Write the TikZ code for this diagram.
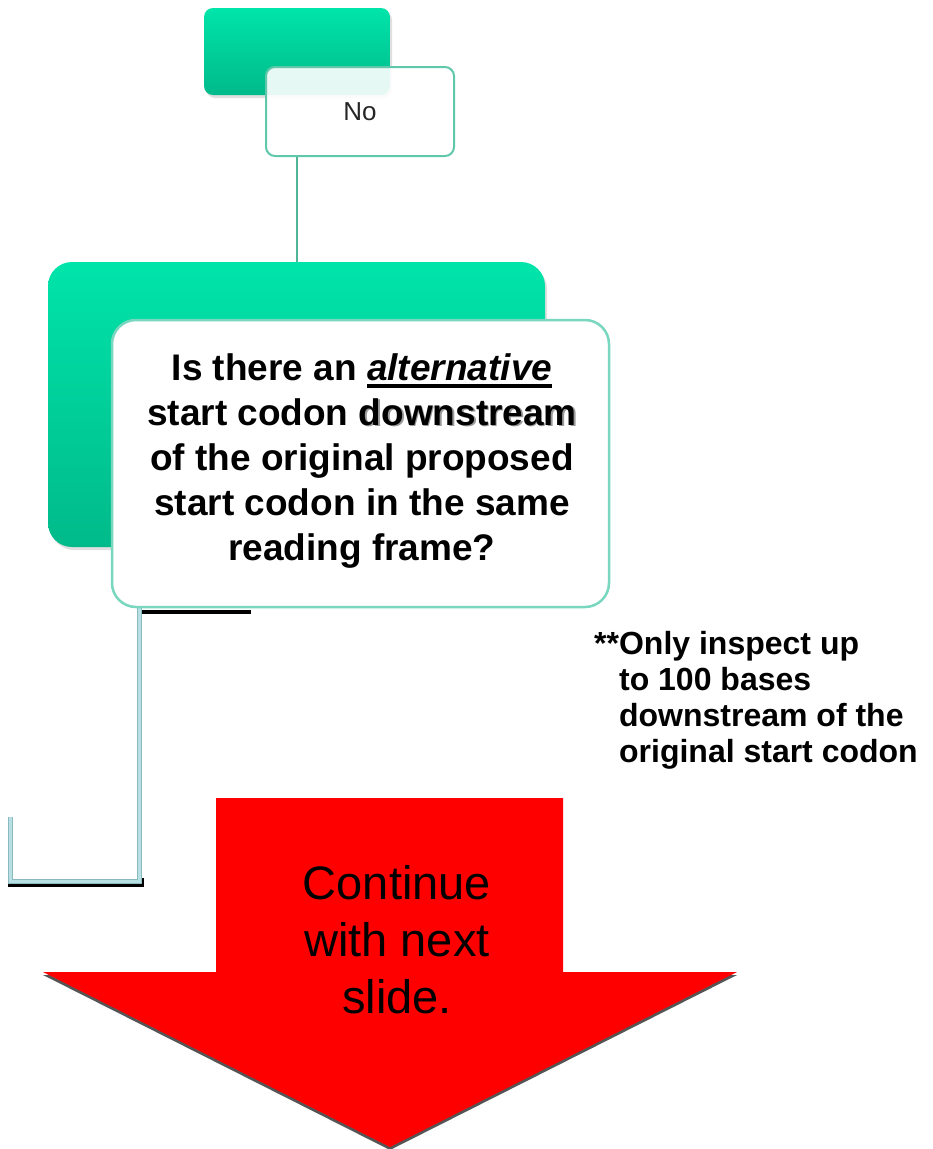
\documentclass[tikz,border=0pt]{standalone}
\usepackage{fontspec}
\setmainfont{Liberation Sans}
\usetikzlibrary{shadows}
\definecolor{gtop}{RGB}{0,228,170}
\definecolor{gbot}{RGB}{0,186,138}
\definecolor{nobord}{RGB}{95,200,170}
\definecolor{wbord}{RGB}{120,215,190}
\definecolor{vline}{RGB}{80,180,150}
\definecolor{elbowout}{RGB}{140,185,190}
\definecolor{elbowin}{RGB}{182,224,228}
\definecolor{arrowred}{RGB}{255,0,0}
\definecolor{arrowshadow}{RGB}{85,85,85}
\newcommand\thickul[1]{\setbox0\hbox{#1}\rlap{\rule[-8pt]{\wd0}{4pt}}\box0}
\newcommand\shadowword[1]{\rlap{\hspace{1.5pt}\raisebox{-1.5pt}{\color{black!40}#1}}#1}
\tikzset{
  greenbox/.style={rounded corners=9pt, top color=gtop, bottom color=gbot, draw=none,
    drop shadow={opacity=0.25, shadow xshift=2pt, shadow yshift=-3pt}},
  whitebox/.style={rounded corners=9pt, fill=white, draw=nobord, line width=2pt},
  bigwhite/.style={rounded corners=24pt, fill=white, draw=wbord, line width=2.5pt},
  elbowlineout/.style={draw=elbowout, line width=5pt},
  elbowlinein/.style={draw=elbowin, line width=3pt},
  elbowshadow/.style={draw=black, line width=3.5pt},
}
\begin{document}
\begin{tikzpicture}[x=1pt,y=-1pt]
\useasboundingbox (0,0) rectangle (933,1149);
% top green box
\node[greenbox, minimum width=186pt, minimum height=87pt, inner sep=0pt] (topg) at (297,51.5) {};
% No box
\node[whitebox, minimum width=188pt, minimum height=89pt, inner sep=0pt, fill opacity=0.9] (nobox) at (360,111.5) {};
\draw[vline, line width=2pt] (topg.south |- nobox.south) -- (topg.south |- 0,262);
\node[font=\fontsize{26pt}{30pt}\selectfont, text=black!85] (notext) at (nobox.center) {No};
% big green box
\node[greenbox, rounded corners=24pt, minimum width=497pt, minimum height=285pt, inner sep=0pt] (bigg) at (296.5,404.5) {};
% elbow connector
\coordinate (e1) at (139,607);
\coordinate (e2) at (139,881);
\coordinate (e3) at (10,881);
\coordinate (e4) at (10,817);
\draw[elbowshadow] (139,612) -- (251,612);
\draw[elbowshadow] (8,885) -- (142,885) -- (142,878);
\draw[elbowlineout] (e1) -- (e2) -- (e3) -- (e4);
\draw[elbowlinein] (e1) -- (e2) -- (e3) -- (e4);
% white question box
\node[bigwhite, minimum width=497pt, minimum height=287pt, inner sep=0pt] (qbox) at (360.5,463.5) {};
\node[align=center, font=\bfseries\fontsize{37pt}{45pt}\selectfont] (qtext) at (362,461)
  {Is there an \thickul{\itshape alternative}\\
   start codon \shadowword{downstream}\\
   of the original proposed\\
   start codon in the same\\
   reading frame?};
% note
\node[anchor=west, align=left, inner sep=0pt, font=\bfseries\fontsize{32pt}{36pt}\selectfont] (note) at (594,700)
  {**Only inspect up\\
   \phantom{**}to 100 bases\\
   \phantom{**}downstream of the\\
   \phantom{**}original start codon};
% red arrow
\fill[arrowshadow] (43,975) -- (390,1150) -- (737,975) -- cycle;
\fill[arrowred] (216,798) -- (563,798) -- (563,972) -- (737,972) -- (390,1147) -- (43,972) -- (216,972) -- cycle;
\node[align=center, font=\fontsize{47pt}{57pt}\selectfont] (cont) at (397,940)
  {Continue\\with next\\slide.};
\end{tikzpicture}
\end{document}
